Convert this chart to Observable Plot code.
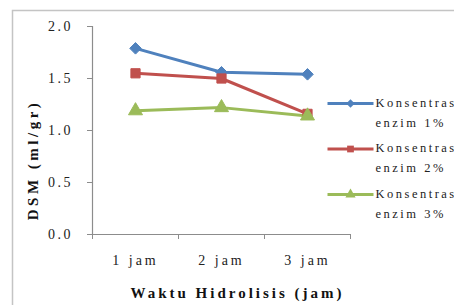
<!DOCTYPE html>
<html>
<head>
<meta charset="utf-8">
<script src="https://cdn.jsdelivr.net/npm/d3@7"></script>
<script src="https://cdn.jsdelivr.net/npm/@observablehq/plot@0.6"></script>
<style>
  html, body { margin: 0; padding: 0; background: #fff; }
  #chart { width: 454px; height: 305px; overflow: hidden; }
</style>
</head>
<body>
<div id="chart"></div>
<script>
// ---- data ----
const categories = ["1 jam", "2 jam", "3 jam"];
const seriesNames = ["Konsentrasi enzim 1%", "Konsentrasi enzim 2%", "Konsentrasi enzim 3%"];
const legendLabels = ["Konsentrasi\nenzim 1%", "Konsentrasi\nenzim 2%", "Konsentrasi\nenzim 3%"];
const enzim1 = [1.79, 1.56, 1.54];
const enzim2 = [1.55, 1.50, 1.16];
const enzim3 = [1.19, 1.22, 1.14];
const yTicks = [0, 0.5, 1.0, 1.5, 2.0];
const yTitle = "DSM (ml/gr)";
const xTitle = "Waktu Hidrolisis (jam)";

// ---- styles ----
const colors = ["#4F81BD", "#C0504D", "#9BBB59"];
const symbols = ["diamond2", "square", "triangle"];
const FONT = "Liberation Serif";

const seriesValues = [enzim1, enzim2, enzim3];
const rows = [];
seriesNames.forEach((s, si) => {
  seriesValues[si].forEach((v, ci) => rows.push({series: s, pos: ci + 1, cat: categories[ci], value: v}));
});

const legendLine = { draw(ctx) { ctx.moveTo(-23, 0); ctx.lineTo(23, 0); } };

const marks = [
  Plot.frame({stroke: "#c4c4c4", strokeWidth: 1.5, insetLeft: -80, insetTop: -16, insetRight: -120, insetBottom: -90}),
  Plot.ruleX([0.5], {stroke: "#8c8c8c", strokeWidth: 1.2}),
  Plot.ruleY([0], {stroke: "#8c8c8c", strokeWidth: 1.2}),
  Plot.axisY({ticks: yTicks, tickFormat: d3.format(".1f"), tickSize: 5, tickPadding: 14.5,
    stroke: "#8c8c8c", fill: "#222", fontSize: 14, label: null}),
  Plot.axisX({ticks: [0.5, 1.5, 2.5, 3.5], tickFormat: () => "", tickSize: 5, stroke: "#8c8c8c", label: null}),
  Plot.axisX({ticks: [1, 2, 3], tickFormat: d => categories[d - 1], tickSize: 0, tickPadding: 21,
    fill: "#222", fontSize: 14, label: null}),
  Plot.text([yTitle], {text: d => d, frameAnchor: "left", rotate: -90, dx: -59, dy: 33,
    fontSize: 15, fontWeight: "bold", fill: "#111"}),
  Plot.text([xTitle], {text: d => d, frameAnchor: "bottom", dx: 16, dy: 63,
    fontSize: 15, fontWeight: "bold", fill: "#111"}),
  Plot.line(rows, {x: "pos", y: "value", z: "series", stroke: "series", strokeWidth: 3}),
  Plot.dot(rows, {x: "pos", y: "value", symbol: "series", fill: "series", stroke: "series", r: 5.2, strokeWidth: 1})
];

seriesNames.forEach((s, i) => {
  const dy = 77 + i * 45.5;
  marks.push(
    Plot.dot([s], {frameAnchor: "top-right", dy, symbol: legendLine, stroke: colors[i], strokeWidth: 3, fill: "none"}),
    Plot.dot([s], {frameAnchor: "top-right", dy, symbol: symbols[i], fill: colors[i], r: 3.8}),
    Plot.text([legendLabels[i]], {text: d => d, frameAnchor: "top-right", dx: 25, dy: dy - 11,
      textAnchor: "start", lineAnchor: "top", lineHeight: 1.6, fontSize: 12.5, fill: "#222"})
  );
});

const chart = Plot.plot({
  width: 454,
  height: 305,
  marginLeft: 92,
  marginRight: 104,
  marginTop: 26,
  marginBottom: 71,
  style: {background: "#fff", overflow: "hidden"},
  x: {type: "linear", domain: [0.5, 3.5], axis: null},
  y: {domain: [0, 2], axis: null},
  color: {domain: seriesNames, range: colors},
  symbol: {domain: seriesNames, range: symbols},
  marks
});
document.getElementById("chart").appendChild(chart);
chart.setAttribute("font-family", FONT);

// letter spacing per text role
const spacing = (t) => {
  if (t === yTitle) return 3.5;
  if (t === xTitle) return 3;
  if (categories.includes(t)) return 3;
  if (/^\d\.\d$/.test(t)) return 2.5;
  if (legendLabels.some(l => l.replace("\n", "") === t)) return 2.5;
  return 0;
};
chart.querySelectorAll("text").forEach(el => {
  el.setAttribute("font-family", FONT);
  const ls = spacing(el.textContent);
  if (ls) el.style.letterSpacing = ls + "px";
});

// centre the rotated y title beside the axis (measured after layout)
const yt = [...chart.querySelectorAll("text")].find(t => t.textContent === yTitle);
if (yt) {
  const r = yt.getBoundingClientRect(), c = chart.getBoundingClientRect();
  const cx = r.left - c.left + r.width / 2, cy = r.top - c.top + r.height / 2;
  const targetX = 33, targetY = 160;
  yt.setAttribute("transform", `translate(${targetX - cx},${targetY - cy}) ${yt.getAttribute("transform") || ""}`);
}
</script>
</body>
</html>
